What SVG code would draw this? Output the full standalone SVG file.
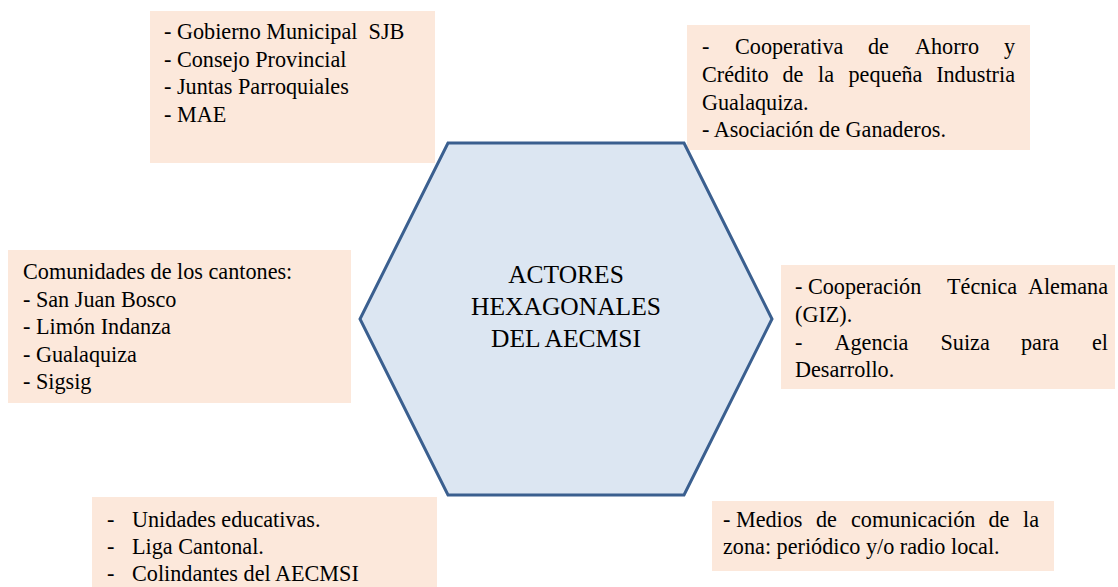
<svg xmlns="http://www.w3.org/2000/svg" width="1118" height="587" viewBox="0 0 1118 587">
<style>
.box{fill:#FCE8DB;stroke:none}
.t{font-family:"Liberation Serif","Times New Roman",serif;font-size:22.2px;fill:#000}
.c{font-family:"Liberation Serif","Times New Roman",serif;font-size:25.5px;fill:#000;text-anchor:middle}
.e{text-anchor:end}
.hex{fill:#DCE6F2;stroke:#3A5F8F;stroke-width:3;stroke-linejoin:miter}
</style>
<rect width="1118" height="587" fill="#ffffff"/>
<g id="connectors"/>
<g id="box-gobierno" font-family="Liberation Serif, serif">
<rect class="box" x="150" y="11" width="285" height="152"/>
<text class="t" x="164" y="39" xml:space="preserve">- Gobierno Municipal  SJB</text>
<text class="t" x="164" y="66.5">- Consejo Provincial</text>
<text class="t" x="164" y="94">- Juntas Parroquiales</text>
<text class="t" x="164" y="121.5">- MAE</text>
</g>
<g id="box-cooperativa" font-family="Liberation Serif, serif">
<rect class="box" x="687" y="25" width="343" height="125"/>
<text class="t" y="54.3"><tspan x="702">-</tspan><tspan x="735">Cooperativa</tspan><tspan x="868">de</tspan><tspan x="915">Ahorro</tspan></text>
<text class="t e" x="1015" y="54.3">y</text>
<text class="t" y="82.3"><tspan x="702">Crédito</tspan><tspan x="782.5">de</tspan><tspan x="818">la</tspan><tspan x="848.5">pequeña</tspan></text>
<text class="t e" x="1015" y="82.3">Industria</text>
<text class="t" x="702" y="110">Gualaquiza.</text>
<text class="t" x="702" y="137.3">- Asociación de Ganaderos.</text>
</g>
<g id="box-comunidades" font-family="Liberation Serif, serif">
<rect class="box" x="8" y="250" width="343" height="153"/>
<text class="t" x="23" y="279.3">Comunidades de los cantones:</text>
<text class="t" x="23" y="306.7">- San Juan Bosco</text>
<text class="t" x="23" y="334.3">- Limón Indanza</text>
<text class="t" x="23" y="361.7">- Gualaquiza</text>
<text class="t" x="23" y="388.7">- Sigsig</text>
</g>
<g id="box-cooperacion" font-family="Liberation Serif, serif">
<rect class="box" x="781" y="265" width="334" height="124"/>
<text class="t" x="795" y="294.3">- Cooperación</text>
<text class="t" x="947" y="294.3">Técnica</text>
<text class="t e" x="1108" y="294.3">Alemana</text>
<text class="t" x="795" y="322.3">(GIZ).</text>
<text class="t" y="350"><tspan x="795">-</tspan><tspan x="834.5">Agencia</tspan><tspan x="940.5">Suiza</tspan><tspan x="1021">para</tspan></text>
<text class="t e" x="1108" y="350">el</text>
<text class="t" x="795" y="377.3">Desarrollo.</text>
</g>
<g id="box-unidades" font-family="Liberation Serif, serif">
<rect class="box" x="92" y="497" width="345" height="90"/>
<text class="t" x="107" y="526.7">-</text><text class="t" x="132" y="526.7">Unidades educativas.</text>
<text class="t" x="107" y="553.8">-</text><text class="t" x="132" y="553.8">Liga Cantonal.</text>
<text class="t" x="107" y="581">-</text><text class="t" x="132" y="581">Colindantes del AECMSI</text>
</g>
<g id="box-medios" font-family="Liberation Serif, serif">
<rect class="box" x="712" y="501" width="342" height="70"/>
<text class="t" y="526.5"><tspan x="723">- Medios</tspan><tspan x="816">de</tspan><tspan x="851">comunicación</tspan><tspan x="988.5">de</tspan></text>
<text class="t e" x="1039" y="526.5">la</text>
<text class="t" x="723" y="553.5">zona: periódico y/o radio local.</text>
</g>
<g id="hexagon" font-family="Liberation Serif, serif">
<polygon class="hex" points="448,143 684,143 772,319 684,495 448,495 360,319"/>
<text class="c" x="566" y="283">ACTORES</text>
<text class="c" x="566" y="315">HEXAGONALES</text>
<text class="c" x="566" y="347">DEL AECMSI</text>
</g>
</svg>
